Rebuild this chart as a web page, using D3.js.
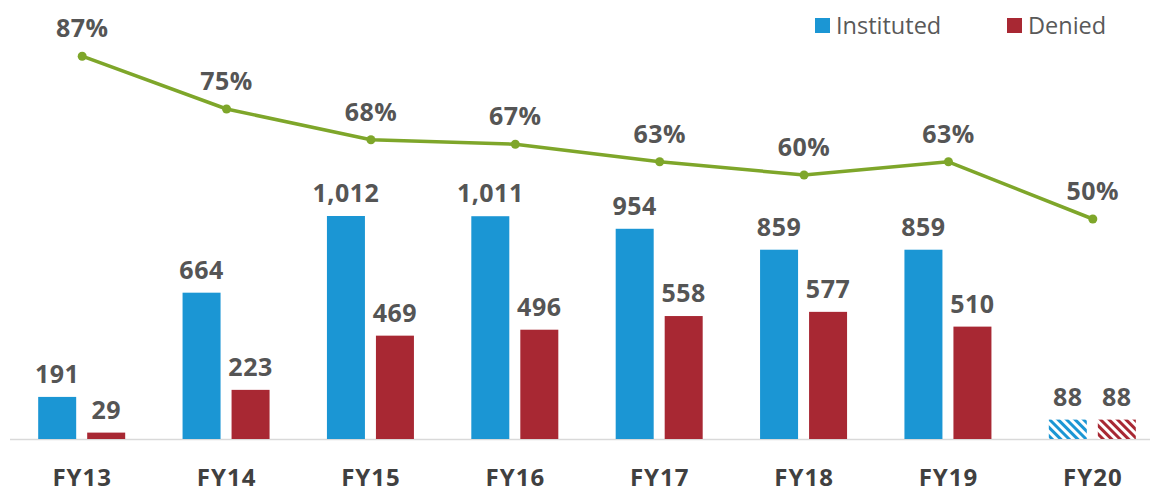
<!DOCTYPE html>
<html>
<head>
<meta charset="utf-8">
<script src="https://cdn.jsdelivr.net/npm/d3@7"></script>
<style>
  html, body { margin: 0; padding: 0; background: #fff; }
  svg { display: block; }
</style>
</head>
<body>
<svg></svg>
<script>
  const years = ['FY13', 'FY14', 'FY15', 'FY16', 'FY17', 'FY18', 'FY19', 'FY20']
  const instituted = [191, 664, 1012, 1011, 954, 859, 859, 88]
  const denied = [29, 223, 469, 496, 558, 577, 510, 88]
  const instRate = [87, 75, 68, 67, 63, 60, 63, 50]
  const partial = ['FY20']

  const width = 1152
  const height = 493
  const baseline = 439
  const blue = '#1b96d4'
  const red = '#a82833'
  const green = '#7ea62a'
  const labelColor = '#555'

  const svg = d3.select('svg').
    attr('width', width).
    attr('height', height)

  const x = d3.scaleBand().domain(years).range([10, 1165]).padding(0)
  const y = d3.scaleLinear().domain([0, 1012]).range([baseline, 216])
  const yPct = d3.scaleLinear().domain([0, 100]).range([baseline, baseline - 440])
  const cx = d => x(d) + x.bandwidth() / 2
  const barW = 38

  // hatch patterns for the partial year
  const defs = svg.append('defs')
  ;[['hatchBlue', blue], ['hatchRed', red]].forEach(([id, c]) => {
    const p = defs.append('pattern').
      attr('id', id).
      attr('patternUnits', 'userSpaceOnUse').
      attr('width', 6).attr('height', 6).
      attr('patternTransform', 'rotate(-45)')
    p.append('rect').attr('width', 6).attr('height', 6).attr('fill', '#fff')
    p.append('rect').attr('width', 3).attr('height', 6).attr('fill', c)
  })

  // axis line
  svg.append('line').
    attr('x1', 10).attr('x2', 1150).
    attr('y1', baseline + 0.5).attr('y2', baseline + 0.5).
    attr('stroke', '#d9d9d9').attr('stroke-width', 1.5)

  const series = [
    { key: 'inst', values: instituted, color: blue, hatch: 'url(#hatchBlue)', dx: -44 },
    { key: 'den', values: denied, color: red, hatch: 'url(#hatchRed)', dx: 5 }
  ]

  series.forEach(s => {
    const rows = years.map((yr, i) => ({ yr, v: s.values[i] }))
    svg.append('g').selectAll('rect').data(rows).
      enter().append('rect').
      attr('x', d => cx(d.yr) + s.dx).
      attr('y', d => y(d.v)).
      attr('width', barW).
      attr('height', d => baseline - y(d.v)).
      attr('fill', d => partial.includes(d.yr) ? s.hatch : s.color)

    svg.append('g').selectAll('text').data(rows).
      enter().append('text').
      attr('x', d => cx(d.yr) + s.dx + barW / 2).
      attr('y', d => y(d.v) - 14).
      attr('text-anchor', 'middle').
      attr('font-family', '"Open Sans", sans-serif').
      attr('font-weight', 700).
      attr('font-size', 25).
      attr('letter-spacing', 0.5).
      attr('fill', labelColor).
      text(d => d3.format(',')(d.v))
  })

  // institution rate line
  const pts = years.map((yr, i) => ({ yr, p: instRate[i] }))
  const line = d3.line().x(d => cx(d.yr)).y(d => yPct(d.p))
  svg.append('path').datum(pts).
    attr('d', line).
    attr('fill', 'none').
    attr('stroke', green).
    attr('stroke-width', 3.5).
    attr('stroke-linejoin', 'round')

  svg.append('g').selectAll('circle').data(pts).
    enter().append('circle').
    attr('cx', d => cx(d.yr)).
    attr('cy', d => yPct(d.p)).
    attr('r', 4.5).
    attr('fill', green)

  svg.append('g').selectAll('text').data(pts).
    enter().append('text').
    attr('x', d => cx(d.yr)).
    attr('y', d => yPct(d.p) - 19).
    attr('text-anchor', 'middle').
    attr('font-family', '"Open Sans", sans-serif').
    attr('font-weight', 700).
    attr('font-size', 25).
    attr('letter-spacing', 0.5).
    attr('fill', labelColor).
    text(d => d.p + '%')

  // category labels
  svg.append('g').selectAll('text').data(years).
    enter().append('text').
    attr('x', d => cx(d)).
    attr('y', 478).
    attr('dy', '0.35em').
    attr('text-anchor', 'middle').
    attr('font-family', '"Open Sans", sans-serif').
    attr('font-weight', 700).
    attr('font-size', 24).
    attr('letter-spacing', 1).
    attr('fill', '#404040').
    text(d => d)

  // legend
  const legend = [
    { name: 'Instituted', color: blue, x: 815 },
    { name: 'Denied', color: red, x: 1007 }
  ]
  const lg = svg.append('g').selectAll('g').data(legend).
    enter().append('g').
    attr('transform', d => `translate(${d.x},18)`)
  lg.append('rect').
    attr('width', 15).attr('height', 15).
    attr('fill', d => d.color)
  lg.append('text').
    attr('x', 21).attr('y', 16).
    attr('font-family', '"Open Sans", sans-serif').
    attr('font-size', 23.5).
    attr('fill', '#595959').
    text(d => d.name)
</script>
</body>
</html>
